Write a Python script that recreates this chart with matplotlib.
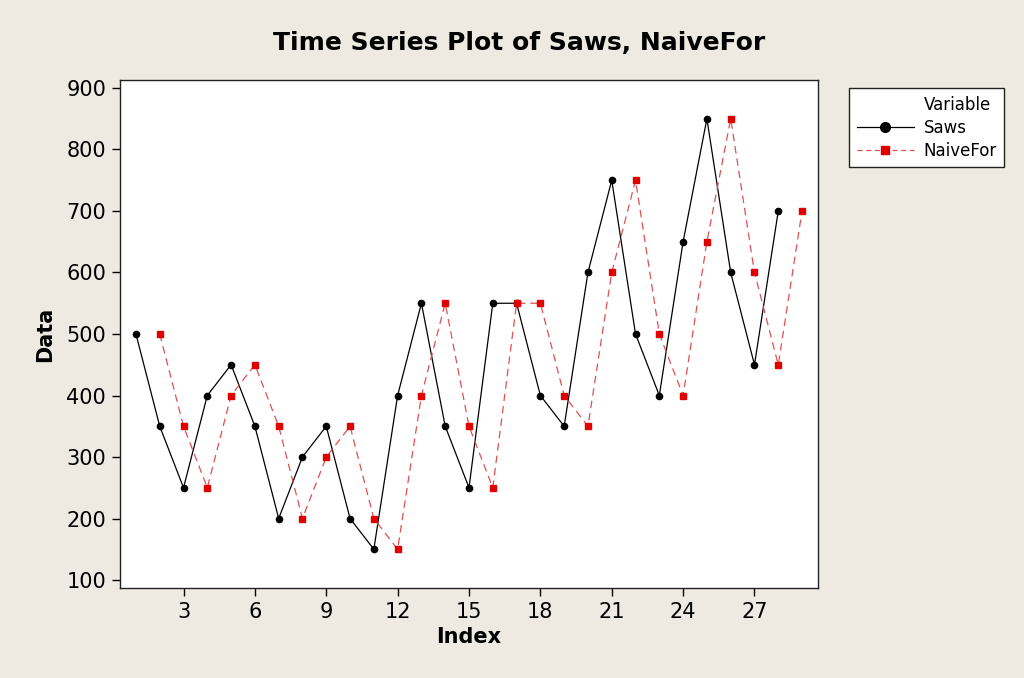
import numpy as np
import matplotlib.pyplot as plt
from matplotlib.lines import Line2D

# data
saws_idx = np.arange(1, 29)
saws = [500, 350, 250, 400, 450, 350, 200, 300, 350, 200, 150, 400, 550, 350,
        250, 550, 550, 400, 350, 600, 750, 500, 400, 650, 850, 600, 450, 700]
naive_idx = np.arange(2, 30)
naive = [500, 350, 250, 400, 450, 350, 200, 300, 350, 200, 150, 400, 550, 350,
         250, 550, 550, 400, 350, 600, 750, 500, 400, 650, 850, 600, 450, 700]
x_ticks = [3, 6, 9, 12, 15, 18, 21, 24, 27]
y_ticks = [100, 200, 300, 400, 500, 600, 700, 800, 900]

bg = '#eeeae1'
fig = plt.figure(figsize=(10.24, 6.78), dpi=100, facecolor=bg)
ax = fig.add_axes([120 / 1024, 1 - 588 / 678, 698 / 1024, 508 / 678])
ax.set_facecolor('white')

ax.plot(saws_idx, saws, color='black', lw=0.9, marker='o', ms=4.5,
        label='Saws')
ax.plot(naive_idx, naive, color='#e05050', lw=0.9, ls=(0, (6, 4)),
        marker='s', ms=4.5, mfc='#e00000', mec='#e00000', label='NaiveFor')

ax.set_xlim(0.33, 29.67)
ax.set_ylim(87, 913)
ax.set_xticks(x_ticks)
ax.set_yticks(y_ticks)
ax.tick_params(direction='out', length=6, width=1, labelsize=15, pad=4)
for s in ax.spines.values():
    s.set_linewidth(1)
    s.set_color('#222222')

ax.set_xlabel('Index', fontsize=15, fontweight='bold', labelpad=4)
ax.set_ylabel('Data', fontsize=15, fontweight='bold', labelpad=8)
fig.text(0.507, 0.937, 'Time Series Plot of Saws, NaiveFor',
         ha='center', va='center', fontsize=18, fontweight='bold')

# legend: "Variable" as a blank entry so it lines up with the labels
blank = Line2D([], [], color='none')
h1 = Line2D([], [], color='black', lw=0.9, marker='o', ms=7)
h2 = Line2D([], [], color='#e05050', lw=0.9, ls=(0, (4, 3)), marker='s',
            ms=6, mfc='#e00000', mec='#e00000')
leg = ax.legend([blank, h1, h2], ['Variable', 'Saws', 'NaiveFor'],
                loc='upper left', bbox_to_anchor=(841 / 1024, 1 - 80 / 678),
                bbox_transform=fig.transFigure, fontsize=12,
                fancybox=False, framealpha=1, edgecolor='#222222',
                borderpad=0.45, handlelength=3.4, handletextpad=0.6,
                labelspacing=0.3)
leg.get_frame().set_linewidth(1)

fig.savefig('out.png', dpi=100, facecolor=bg)
